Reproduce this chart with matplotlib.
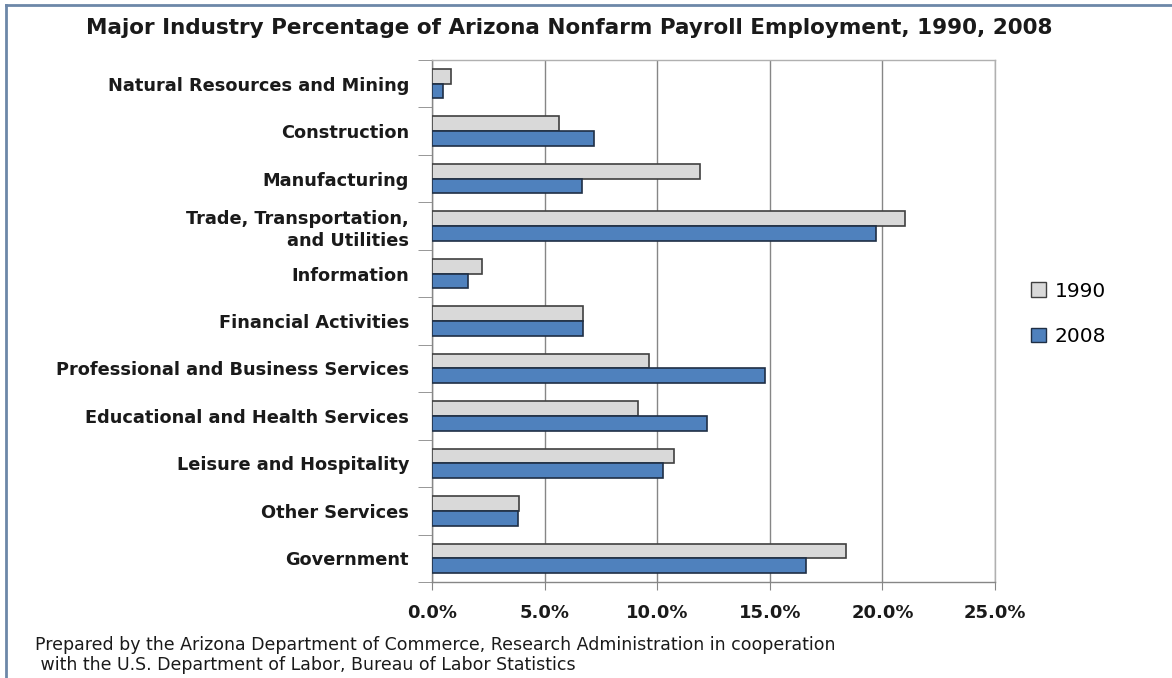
import matplotlib.pyplot as plt
import numpy as np
from matplotlib.lines import Line2D
from matplotlib.patches import Patch

plt.rcParams['font.family'] = ['DejaVu Sans']

categories = [
    "Natural Resources and Mining",
    "Construction",
    "Manufacturing",
    "Trade, Transportation,\nand Utilities",
    "Information",
    "Financial Activities",
    "Professional and Business Services",
    "Educational and Health Services",
    "Leisure and Hospitality",
    "Other Services",
    "Government",
]
pct_1990 = [0.85, 5.65, 11.9, 21.0, 2.2, 6.7, 9.65, 9.15, 10.75, 3.87, 18.4]
pct_2008 = [0.5, 7.2, 6.67, 19.7, 1.6, 6.7, 14.8, 12.2, 10.27, 3.82, 16.6]
x_ticks = [0, 5, 10, 15, 20, 25]

fig = plt.figure(figsize=(11.72, 6.78), dpi=100)
ax = fig.add_axes([0.3686, 0.1416, 0.849 - 0.3686, 0.9115 - 0.1416])

n = len(categories)
y = np.arange(n)
h = 0.31
ax.barh(y - h / 2, pct_1990, height=h, color='#d9d9d9', edgecolor='#404040', linewidth=1.2, label='1990', zorder=3)
ax.barh(y + h / 2, pct_2008, height=h, color='#4f81bd', edgecolor='#1f2f45', linewidth=1.2, label='2008', zorder=3)

ax.set_ylim(n - 0.5, -0.5)
ax.set_xlim(0, 25)
ax.set_xticks(x_ticks)
ax.set_xticklabels([f"{v:.1f}%" for v in x_ticks], fontsize=13, fontweight='bold', color='#1a1a1a')
ax.set_yticks(y)
ax.set_yticklabels(categories, fontsize=12.8, fontweight='bold', color='#1a1a1a', linespacing=1.3)
ax.tick_params(axis='y', length=0, pad=16.5)
ax.tick_params(axis='x', length=6, color='#868686', pad=10, direction='out')
ax.set_yticks(np.arange(n + 1) - 0.5, minor=True)
ax.tick_params(axis='y', which='minor', length=10, color='#868686', direction='out')

ax.grid(axis='x', color='#868686', linewidth=1.0, zorder=0)
for side in ['top', 'right', 'left', 'bottom']:
    ax.spines[side].set_color('#868686')
    ax.spines[side].set_linewidth(1.0)
ax.spines['top'].set_color('#b0b0b0')
ax.spines['right'].set_color('#b0b0b0')

handles = [Patch(facecolor='#d9d9d9', edgecolor='#404040', label='1990'),
           Patch(facecolor='#4f81bd', edgecolor='#1f2f45', label='2008')]
fig.legend(handles=handles, loc='center left', bbox_to_anchor=(0.864, 0.537), frameon=False,
           fontsize=14.5, labelspacing=1.3, handlelength=0.75, handleheight=0.75, handletextpad=0.45)

fig.text(0.486, 0.958, "Major Industry Percentage of Arizona Nonfarm Payroll Employment, 1990, 2008",
         ha='center', va='center', fontsize=15.5, fontweight='bold', color='#1a1a1a')
fig.text(0.03, 0.034, "Prepared by the Arizona Department of Commerce, Research Administration in cooperation\n"
         " with the U.S. Department of Labor, Bureau of Labor Statistics",
         ha='left', va='center', fontsize=12.5, color='#1a1a1a', linespacing=1.2)

# outer chart border (left and top edges visible)
fig.add_artist(Line2D([0.005, 0.005], [0, 0.993], color='#6d87a8', linewidth=2, transform=fig.transFigure))
fig.add_artist(Line2D([0.005, 1], [0.993, 0.993], color='#6d87a8', linewidth=2, transform=fig.transFigure))

fig.savefig('out.png', dpi=100)
